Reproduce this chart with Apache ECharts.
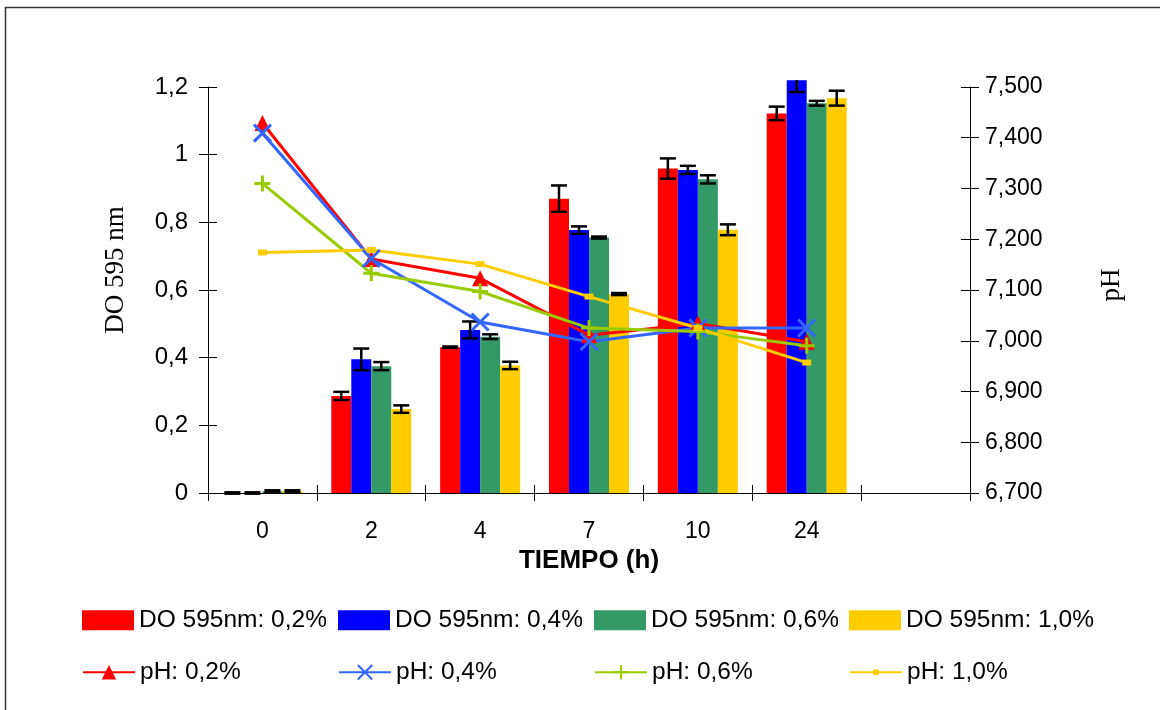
<!DOCTYPE html>
<html>
<head>
<meta charset="utf-8">
<script src="https://cdn.jsdelivr.net/npm/echarts@6/dist/echarts.min.js"></script>
<style>
html,body{margin:0;padding:0;background:#fff;}
#chart{width:1160px;height:710px;}
</style>
</head>
<body>
<div id="chart"></div>
<script>
// ---- data ----
const categories = ['0', '2', '4', '7', '10', '24', ''];
const leftTicks = { min: 0, max: 1.2, interval: 0.2 };
const rightTicks = { min: 6.7, max: 7.5, interval: 0.1 };
const leftTitle = 'DO 595 nm';
const rightTitle = 'pH';
const xTitle = 'TIEMPO (h)';

const barNames = ['DO 595nm: 0,2%', 'DO 595nm: 0,4%', 'DO 595nm: 0,6%', 'DO 595nm: 1,0%'];
const do02 = [0.000, 0.287, 0.431, 0.870, 0.959, 1.122];
const do04 = [0.000, 0.395, 0.482, 0.777, 0.955, 1.220];
const do06 = [0.005, 0.375, 0.462, 0.755, 0.927, 1.152];
const do10 = [0.005, 0.248, 0.377, 0.588, 0.778, 1.167];
const err02 = [0.002, 0.012, 0.002, 0.039, 0.030, 0.020];
const err04 = [0.002, 0.032, 0.025, 0.011, 0.012, 0.035];
const err06 = [0.003, 0.012, 0.007, 0.003, 0.012, 0.007];
const err10 = [0.003, 0.011, 0.011, 0.003, 0.016, 0.022];

const lineNames = ['pH: 0,2%', 'pH: 0,4%', 'pH: 0,6%', 'pH: 1,0%'];
const ph02 = [7.429, 7.161, 7.123, 7.011, 7.034, 6.998];
const ph04 = [7.409, 7.162, 7.037, 6.998, 7.025, 7.025];
const ph06 = [7.310, 7.133, 7.097, 7.025, 7.018, 6.990];
const ph10 = [7.174, 7.179, 7.151, 7.087, 7.025, 6.957];

// ---- styles ----
const barColors = ['#FF0000', '#0000FF', '#339966', '#FFCC00'];
const lineColors = ['#FF0000', '#3366FF', '#99CC00', '#FFCC00'];
const lineSymbols = ['triangle', 'path://M0,0L10,10M10,0L0,10', 'path://M5,0L5,10M0,5L10,5', 'rect'];
const lineSymbolSizes = [16, 17, 16, [9, 6]];
const BAR_W = 20;

const doSeries = [do02, do04, do06, do10];
const errSeries = [err02, err04, err06, err10];
const phSeries = [ph02, ph04, ph06, ph10];

const errData = [];
doSeries.forEach((arr, g) => {
  arr.forEach((v, i) => {
    errData.push([i, g, v - errSeries[g][i], v + errSeries[g][i]]);
  });
});

const sansFont = '"Liberation Sans", Arial, sans-serif';
const serifFont = '"Liberation Serif", "Times New Roman", serif';

const series = [];
doSeries.forEach((arr, g) => {
  series.push({
    name: barNames[g], type: 'bar', data: arr, xAxisIndex: 0, yAxisIndex: 0,
    barWidth: BAR_W, barGap: '0%', clip: false, z: 2,
    itemStyle: { color: barColors[g] }
  });
});
series.push({
  type: 'custom', xAxisIndex: 0, yAxisIndex: 0, z: 3,
  data: errData,
  encode: { x: 0, y: [2, 3] },
  renderItem: function (params, api) {
    const i = api.value(0), g = api.value(1);
    const lo = api.coord([i, api.value(2)]);
    const hi = api.coord([i, api.value(3)]);
    const x = lo[0] + (g - 1.5) * BAR_W;
    const hw = 8;
    const cs = params.coordSys;
    const st = { stroke: '#000', lineWidth: 2.5 };
    return {
      type: 'group',
      clipPath: { type: 'rect', shape: { x: cs.x - 10, y: cs.y - 7, width: cs.width + 20, height: cs.height + 20 } },
      children: [
        { type: 'line', shape: { x1: x, y1: lo[1], x2: x, y2: hi[1] }, style: st },
        { type: 'line', shape: { x1: x - hw, y1: lo[1], x2: x + hw, y2: lo[1] }, style: st },
        { type: 'line', shape: { x1: x - hw, y1: hi[1], x2: x + hw, y2: hi[1] }, style: st }
      ]
    };
  }
});
phSeries.forEach((arr, g) => {
  series.push({
    name: lineNames[g], type: 'line', data: arr, xAxisIndex: 0, yAxisIndex: 1, z: 5,
    symbol: lineSymbols[g], symbolSize: lineSymbolSizes[g],
    lineStyle: { color: lineColors[g], width: 3 },
    itemStyle: { color: lineColors[g], borderColor: lineColors[g], borderWidth: (g === 1 || g === 2) ? 3 : 0 }
  });
});

const LEG_FONT = 24.5;
const legendX = [82, 338, 594, 849];
const legends = [];
barNames.forEach((n, g) => legends.push({
  data: [{ name: n, icon: 'rect' }], left: legendX[g], top: 620 - LEG_FONT / 2, padding: 0, itemGap: 0,
  itemWidth: 52, itemHeight: 20, selectedMode: false,
  textStyle: { fontFamily: sansFont, fontSize: LEG_FONT, color: '#000' }
}));
const lineLegendH = [18, 18, 18, 7];
lineNames.forEach((n, g) => legends.push({
  data: [n], left: legendX[g], top: 672 - LEG_FONT / 2, padding: 0, itemGap: 0,
  itemWidth: 52, itemHeight: lineLegendH[g], selectedMode: false,
  textStyle: { fontFamily: sansFont, fontSize: LEG_FONT, color: '#000' }
}));

const fmtLeft = v => String(+(+v).toFixed(1)).replace('.', ',');
const fmtRight = v => (+v).toFixed(3).replace('.', ',');

const option = {
  animation: false,
  backgroundColor: '#fff',
  graphic: [{
    type: 'rect', left: 3, top: 5, shape: { width: 1300, height: 900 },
    style: { fill: 'none', stroke: '#333', lineWidth: 1.5 }, silent: true, z: -1
  }, {
    type: 'text', x: 116, y: 270, rotation: Math.PI / 2,
    style: { text: leftTitle, font: '27px ' + serifFont, fill: '#000', align: 'center', verticalAlign: 'middle' }
  }, {
    type: 'text', x: 1112, y: 285, rotation: Math.PI / 2,
    style: { text: rightTitle, font: '27px ' + serifFont, fill: '#000', align: 'center', verticalAlign: 'middle' }
  }],
  grid: { left: 208, right: 190, top: 87, bottom: 217, containLabel: false },
  legend: legends,
  xAxis: [{
    type: 'category', data: categories, position: 'bottom',
    axisLine: { show: true, lineStyle: { color: '#000', width: 1 } },
    axisTick: { show: true, interval: 0, length: 8, lineStyle: { color: '#000' } },
    axisLabel: { interval: 0, margin: 27, fontFamily: sansFont, fontSize: 23, color: '#000' },
    splitLine: { show: false },
    name: xTitle, nameLocation: 'middle', nameGap: 45,
    nameTextStyle: { fontFamily: sansFont, fontSize: 26, fontWeight: 'bold', color: '#000' }
  }, {
    type: 'category', data: categories, position: 'bottom',
    axisLine: { show: false },
    axisTick: { show: true, inside: true, interval: 0, length: 8, lineStyle: { color: '#000' } },
    axisLabel: { show: false }, splitLine: { show: false }
  }],
  yAxis: [{
    type: 'value', position: 'left', min: leftTicks.min, max: leftTicks.max, interval: leftTicks.interval,
    axisLine: { show: true, lineStyle: { color: '#000' } },
    axisTick: { show: true, length: 9, lineStyle: { color: '#000' } },
    axisLabel: { margin: 20, fontFamily: sansFont, fontSize: 24, color: '#000', formatter: fmtLeft },
    splitLine: { show: false }
  }, {
    type: 'value', position: 'right', min: rightTicks.min, max: rightTicks.max, interval: rightTicks.interval,
    axisLine: { show: true, lineStyle: { color: '#000' } },
    axisTick: { show: true, length: 9, lineStyle: { color: '#000' } },
    axisLabel: { margin: 15, fontFamily: sansFont, fontSize: 23, color: '#000', formatter: fmtRight },
    splitLine: { show: false }
  }, {
    type: 'value', position: 'left', min: leftTicks.min, max: leftTicks.max, interval: leftTicks.interval,
    axisLine: { show: false }, axisLabel: { show: false }, splitLine: { show: false },
    axisTick: { show: true, inside: true, length: 9, lineStyle: { color: '#000' } }
  }, {
    type: 'value', position: 'right', min: rightTicks.min, max: rightTicks.max, interval: rightTicks.interval,
    axisLine: { show: false }, axisLabel: { show: false }, splitLine: { show: false },
    axisTick: { show: true, inside: true, length: 9, lineStyle: { color: '#000' } }
  }],
  series: series
};

const chart = echarts.init(document.getElementById('chart'), null, { renderer: 'canvas' });
chart.setOption(option);
</script>
</body>
</html>
